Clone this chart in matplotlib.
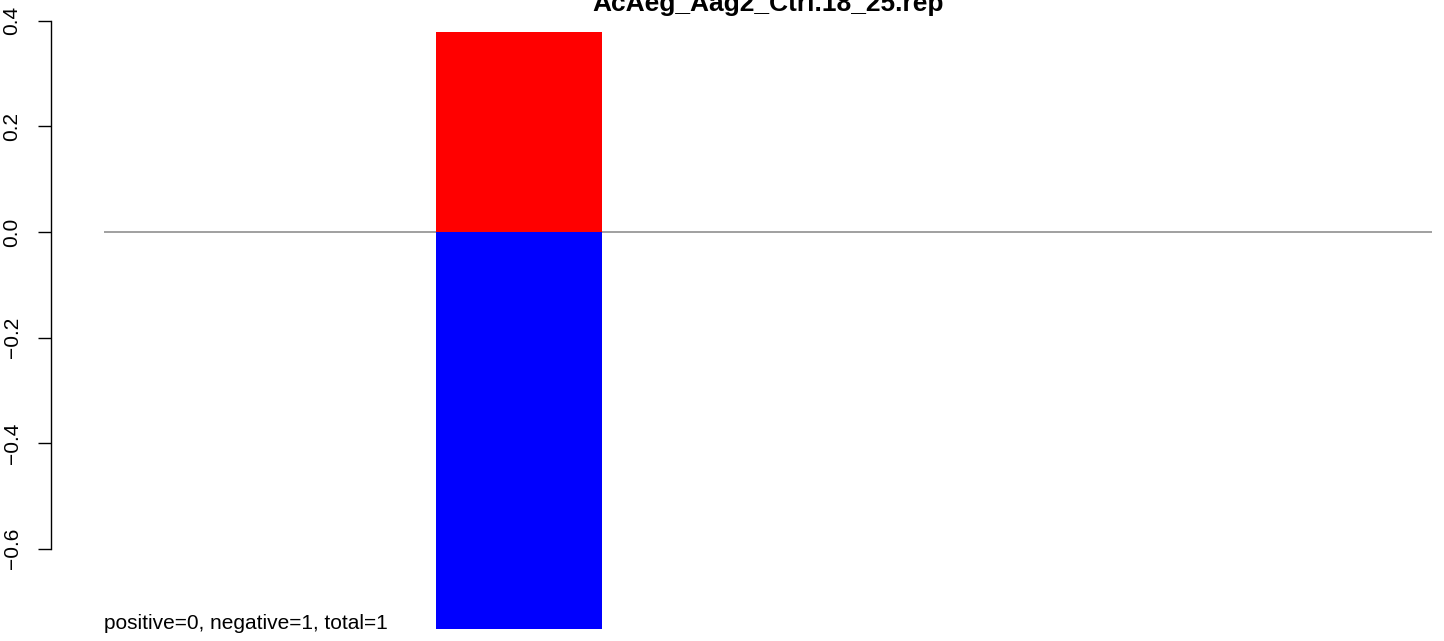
import matplotlib
matplotlib.use("Agg")
import matplotlib.pyplot as plt

# ---- data ----
title = "AcAeg_Aag2_Ctrl.18_25.rep"
bar_positions = [2.5]
positive_values = [0.379]
negative_values = [-0.752]
y_ticks = [-0.6, -0.4, -0.2, 0.0, 0.2, 0.4]
y_tick_labels = ["\u22120.6", "\u22120.4", "\u22120.2", "0.0", "0.2", "0.4"]
summary = "positive=0, negative=1, total=1"

plt.rcParams['font.family'] = ['Liberation Sans', 'DejaVu Sans']

W, H = 1444, 641
fig = plt.figure(figsize=(W / 100, H / 100), dpi=100)
ax = fig.add_axes([104 / W, 0, 1328 / W, 1])
ax.set_xlim(0, 8)
ax.set_ylim(-0.7746, 0.4394)

ax.bar(bar_positions, positive_values, width=1.0, color='#FF0000', align='center', zorder=2)
ax.bar(bar_positions, negative_values, width=1.0, color='#0000FF', align='center', zorder=2)
ax.axhline(0, color='#999999', lw=1.3, zorder=1)

for s in ['top', 'right', 'bottom']:
    ax.spines[s].set_visible(False)
ax.spines['left'].set_position(('outward', 38))
ax.spines['left'].set_bounds(-0.6, 0.4)
ax.spines['left'].set_linewidth(1.0)
ax.set_xticks([])
ax.set_yticks(y_ticks)
ax.set_yticklabels(y_tick_labels, rotation=90, va='center', fontsize=15)
ax.tick_params(axis='y', length=9.4, width=1.0, pad=12)

fig.text(768 / W, 1 - 11 / H, title, ha='center', va='baseline',
         fontsize=19, fontweight='bold')
ax.text(0, -0.752, summary, ha='left', va='baseline', fontsize=15)

fig.savefig("out.png", dpi=100)
